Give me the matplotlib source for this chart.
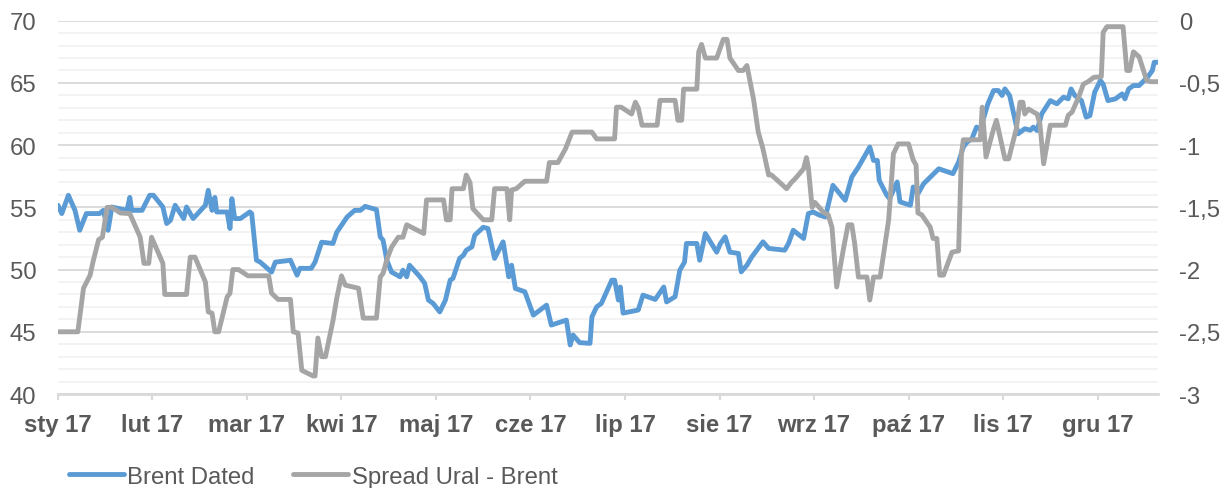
import matplotlib
matplotlib.use("Agg")
import matplotlib.pyplot as plt
from matplotlib.ticker import MultipleLocator, FixedLocator

plt.rcParams['font.family'] = ['Liberation Sans', 'DejaVu Sans']

# x positions are in months since 1 Jan 2017
month_labels = ["sty 17", "lut 17", "mar 17", "kwi 17", "maj 17", "cze 17",
                "lip 17", "sie 17", "wrz 17", "paź 17", "lis 17", "gru 17"]

brent_x = [0.00, 0.04, 0.11, 0.18, 0.23, 0.30, 0.44, 0.48, 0.53, 0.57, 0.73, 0.76, 0.78, 0.89,
           0.97, 1.01, 1.11, 1.15, 1.19, 1.24, 1.33, 1.36, 1.43, 1.56, 1.59, 1.63, 1.66, 1.68,
           1.79, 1.82, 1.84, 1.87, 1.93, 2.03, 2.05, 2.10, 2.14, 2.26, 2.30, 2.46, 2.53, 2.56,
           2.68, 2.72, 2.79, 2.91, 2.95, 3.00, 3.06, 3.14, 3.20, 3.25, 3.37, 3.41, 3.44, 3.48,
           3.53, 3.62, 3.65, 3.69, 3.72, 3.83, 3.88, 3.92, 3.97, 4.04, 4.10, 4.15, 4.18, 4.25,
           4.29, 4.32, 4.38, 4.41, 4.50, 4.55, 4.62, 4.71, 4.77, 4.80, 4.84, 4.94, 5.03, 5.17,
           5.22, 5.38, 5.42, 5.45, 5.52, 5.63, 5.65, 5.70, 5.75, 5.86, 5.89, 5.93, 5.95, 5.98,
           6.14, 6.19, 6.32, 6.41, 6.44, 6.53, 6.58, 6.63, 6.65, 6.76, 6.79, 6.85, 6.97, 7.01,
           7.06, 7.11, 7.20, 7.23, 7.29, 7.34, 7.46, 7.52, 7.69, 7.73, 7.78, 7.89, 7.94, 7.99,
           8.05, 8.12, 8.20, 8.33, 8.40, 8.47, 8.59, 8.63, 8.67, 8.69, 8.77, 8.80, 8.88, 8.91,
           9.02, 9.05, 9.10, 9.16, 9.32, 9.47, 9.53, 9.58, 9.62, 9.67, 9.72, 9.76, 9.84, 9.90,
           9.95, 9.99, 10.02, 10.07, 10.16, 10.23, 10.29, 10.32, 10.36, 10.41, 10.50, 10.57,
           10.64, 10.69, 10.72, 10.76, 10.83, 10.88, 10.92, 10.97, 11.03, 11.06, 11.11, 11.19,
           11.26, 11.29, 11.33, 11.38, 11.44, 11.53, 11.58, 11.60, 11.64]
brent_y = [55.17, 54.5, 55.97, 54.76, 53.16, 54.5, 54.5, 54.76, 53.16, 55.03, 54.76, 55.8, 54.76, 54.76,
           55.97, 55.97, 55.03, 53.7, 53.96, 55.17, 54.1, 55.03, 54.1, 55.17, 56.37, 54.76, 55.8, 54.63,
           54.63, 53.3, 55.7, 54.1, 54.1, 54.63, 54.5, 50.75, 50.6, 49.8, 50.6, 50.75, 49.55, 50.1,
           50.1, 50.6, 52.2, 52.1, 53.0, 53.56, 54.23, 54.76, 54.76, 55.08, 54.82, 52.63, 52.36, 50.75,
           49.8, 49.42, 49.95, 49.42, 50.35, 49.42, 48.9, 47.55, 47.28, 46.6, 47.55, 49.15, 49.3, 50.9,
           51.15, 51.55, 51.83, 52.76, 53.4, 53.3, 50.9, 52.23, 49.42, 50.35, 48.48, 48.22, 46.34, 47.14,
           45.54, 45.94, 43.94, 44.74, 44.13, 44.07, 46.2, 47.0, 47.28, 49.15, 49.15, 47.55, 48.6, 46.5,
           46.75, 47.95, 47.6, 48.6, 47.4, 47.82, 49.95, 50.6, 52.1, 52.1, 50.75, 52.9, 51.4, 52.1,
           52.63, 51.4, 51.3, 49.82, 50.35, 51.0, 52.23, 51.7, 51.56, 52.1, 53.16, 52.5, 54.5, 54.63,
           54.4, 54.23, 56.77, 55.57, 57.44, 58.24, 59.85, 58.77, 58.77, 57.17, 55.97, 55.7, 57.04, 55.44,
           55.17, 56.64, 56.1, 56.9, 58.1, 57.71, 58.64, 59.85, 60.25, 60.5, 61.45, 61.3, 63.32, 64.39,
           64.39, 63.99, 64.52, 63.99, 60.91, 61.32, 61.2, 61.45, 61.18, 62.52, 63.58, 63.32,
           63.86, 63.72, 64.52, 63.99, 63.58, 62.25, 62.38, 64.26, 65.19, 64.9, 63.58, 63.72,
           64.12, 63.72, 64.52, 64.79, 64.79, 65.46, 65.99, 66.66, 66.66]

spread_x = [0.00, 0.21, 0.25, 0.27, 0.34, 0.37, 0.43, 0.47, 0.52, 0.57, 0.66, 0.76, 0.87, 0.91,
            0.96, 0.99, 1.11, 1.13, 1.36, 1.40, 1.45, 1.56, 1.59, 1.63, 1.66, 1.70, 1.79, 1.82,
            1.85, 1.91, 2.01, 2.23, 2.26, 2.33, 2.46, 2.49, 2.54, 2.58, 2.70, 2.72, 2.75, 2.79,
            2.83, 2.91, 2.95, 3.00, 3.04, 3.18, 3.23, 3.37, 3.41, 3.44, 3.48, 3.53, 3.60, 3.65,
            3.69, 3.87, 3.90, 4.08, 4.11, 4.15, 4.17, 4.29, 4.32, 4.36, 4.39, 4.50, 4.59, 4.62,
            4.75, 4.78, 4.80, 4.85, 4.94, 5.17, 5.20, 5.29, 5.37, 5.44, 5.65, 5.70, 5.89, 5.91,
            5.96, 6.07, 6.11, 6.14, 6.18, 6.34, 6.37, 6.53, 6.56, 6.60, 6.62, 6.76, 6.78, 6.81,
            6.85, 6.97, 7.04, 7.08, 7.11, 7.20, 7.25, 7.29, 7.36, 7.41, 7.46, 7.52, 7.55, 7.71,
            7.76, 7.80, 7.89, 7.92, 7.94, 7.98, 8.01, 8.10, 8.15, 8.19, 8.24, 8.31, 8.36, 8.40,
            8.43, 8.47, 8.56, 8.59, 8.63, 8.70, 8.79, 8.84, 8.89, 9.00, 9.05, 9.08, 9.10, 9.14,
            9.23, 9.26, 9.30, 9.33, 9.37, 9.46, 9.53, 9.56, 9.58, 9.76, 9.78, 9.82, 9.90, 9.93,
            10.02, 10.06, 10.14, 10.18, 10.21, 10.23, 10.27, 10.36, 10.39, 10.43, 10.46, 10.50,
            10.66, 10.69, 10.73, 10.80, 10.85, 10.90, 10.96, 11.04, 11.06, 11.10, 11.27, 11.31,
            11.34, 11.38, 11.44, 11.52, 11.56, 11.64]
spread_y = [-2.5, -2.5, -2.27, -2.15, -2.045, -1.94, -1.76, -1.74, -1.5, -1.5, -1.545, -1.55, -1.74, -1.95,
            -1.95, -1.74, -1.95, -2.2, -2.2, -1.9, -1.9, -2.1, -2.34, -2.35, -2.5, -2.5, -2.22, -2.19,
            -2.0, -2.0, -2.05, -2.05, -2.19, -2.24, -2.24, -2.5, -2.51, -2.81, -2.855, -2.855, -2.55, -2.7,
            -2.7, -2.41, -2.23, -2.05, -2.125, -2.15, -2.39, -2.39, -2.06, -2.03, -1.92, -1.82, -1.74, -1.74,
            -1.64, -1.71, -1.44, -1.44, -1.6, -1.6, -1.35, -1.35, -1.24, -1.30, -1.51, -1.6, -1.6, -1.35,
            -1.35, -1.6, -1.36, -1.35, -1.29, -1.29, -1.14, -1.14, -1.03, -0.895, -0.895, -0.95, -0.95, -0.695,
            -0.695, -0.75, -0.655, -0.70, -0.84, -0.84, -0.64, -0.64, -0.80, -0.80, -0.55, -0.55, -0.25, -0.19,
            -0.30, -0.30, -0.15, -0.15, -0.30, -0.40, -0.40, -0.36, -0.63, -0.895, -1.03, -1.24, -1.24, -1.35,
            -1.30, -1.27, -1.19, -1.10, -1.18, -1.50, -1.46, -1.54, -1.56, -1.66, -2.14, -1.84, -1.64, -1.64,
            -1.79, -2.06, -2.06, -2.245, -2.06, -2.06, -1.60, -1.07, -0.99, -0.99, -1.12, -1.16, -1.545, -1.56,
            -1.66, -1.75, -1.75, -2.045, -2.045, -1.86, -1.85, -1.07, -0.957, -0.957, -0.695, -1.095, -0.87, -0.80,
            -1.11, -1.11, -0.87, -0.655, -0.655, -0.75, -0.71, -0.75, -0.83, -1.15, -1.015, -0.84,
            -0.84, -0.76, -0.735, -0.615, -0.51, -0.49, -0.455, -0.45, -0.093, -0.048, -0.048, -0.40,
            -0.40, -0.25, -0.29, -0.48, -0.49, -0.49]

left_ticks = [40, 45, 50, 55, 60, 65, 70]
right_ticks = [-3, -2.5, -2, -1.5, -1, -0.5, 0]
right_labels = ["-3", "-2,5", "-2", "-1,5", "-1", "-0,5", "0"]

blue = "#5B9BD5"
grey = "#A5A5A5"
txt = "#595959"
fs = 17.2

fig = plt.figure(figsize=(12.31, 4.89), dpi=100)
ax = fig.add_axes([0.0471, 0.1922, 0.8936, 0.7634])
ax2 = ax.twinx()

l1, = ax.plot(brent_x, brent_y, color=blue, lw=3.5, solid_joinstyle='round',
              solid_capstyle='round', label="Brent Dated", zorder=3)
l2, = ax2.plot(spread_x, spread_y, color=grey, lw=3.5, solid_joinstyle='round',
               solid_capstyle='round', label="Spread Ural - Brent", zorder=3)

ax.set_xlim(0, 11.64)
ax.set_ylim(40, 70)
ax2.set_ylim(-3, 0)

ax.yaxis.set_major_locator(FixedLocator(left_ticks))
ax.yaxis.set_minor_locator(MultipleLocator(1))
ax.grid(which='major', axis='y', color='#D9D9D9', lw=1.3, zorder=0)
ax.grid(which='minor', axis='y', color='#F2F2F2', lw=1.3, zorder=0)
ax.set_axisbelow(True)

ax.set_xticks(range(len(month_labels)))
ax.set_xticklabels(month_labels, fontsize=fs, fontweight='bold', color=txt)
ax.tick_params(axis='x', length=4, width=1.5, color='#D9D9D9', pad=9.5)
ax.tick_params(axis='y', which='both', length=0, labelsize=fs, labelcolor=txt, pad=15.5)

ax2.set_yticks(right_ticks)
ax2.set_yticklabels(right_labels)
ax2.tick_params(axis='y', length=0, labelsize=fs, labelcolor=txt, pad=15)

for a in (ax, ax2):
    for s in ('top', 'left', 'right'):
        a.spines[s].set_visible(False)
    a.spines['bottom'].set_color('#D9D9D9')
    a.spines['bottom'].set_linewidth(2)
ax2.spines['bottom'].set_visible(False)

fig.legend(handles=[l1, l2], loc='center left', bbox_to_anchor=(0.056, 0.023),
           ncol=2, frameon=False, fontsize=fs, labelcolor=txt, handlelength=2.3,
           handletextpad=0.15, columnspacing=1.6, borderaxespad=0, borderpad=0)

fig.savefig("out.png", dpi=100)
